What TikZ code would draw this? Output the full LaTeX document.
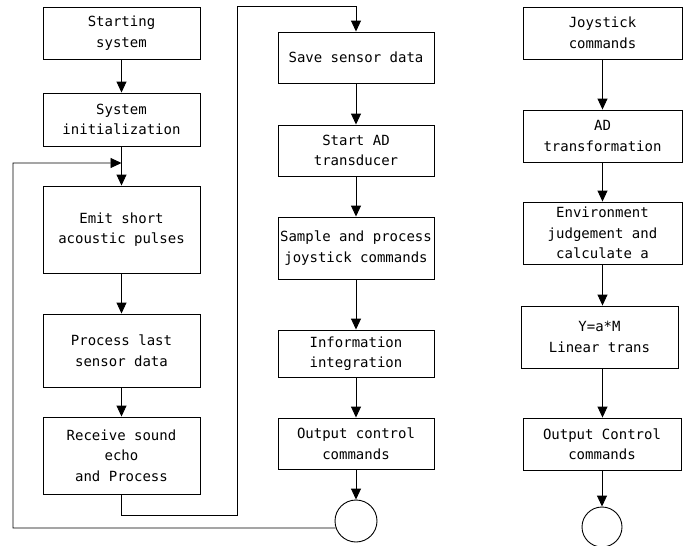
\documentclass[tikz,border=0pt]{standalone}
\usepackage{fontspec}
\newfontfamily\diagfont{DejaVu Sans Mono}
\usetikzlibrary{arrows.meta}
\begin{document}
\begin{tikzpicture}[x=1pt,y=-1pt,
  every node/.style={font=\diagfont\fontsize{14}{20.5}\selectfont},
  procbox/.style={draw,line width=0.9pt,align=center,inner sep=0pt},
  endcircle/.style={draw,line width=0.9pt,circle,inner sep=0pt},
  flow/.style={line width=0.9pt,-{Triangle[length=11pt,width=10pt]}},
  plain/.style={line width=0.9pt}]
\useasboundingbox (0,0) rectangle (697,546);
% left column
\node[procbox,minimum width=157pt,minimum height=52pt] (b1) at (121.5,33) {Starting\\system};
\node[procbox,minimum width=157pt,minimum height=53pt] (b2) at (121.5,119.5) {System\\initialization};
\node[procbox,minimum width=157pt,minimum height=87pt] (b3) at (121.5,229.5) {Emit short\\acoustic pulses};
\node[procbox,minimum width=157pt,minimum height=73pt] (b4) at (121.5,350.5) {Process last\\sensor data};
\node[procbox,minimum width=157pt,minimum height=77pt] (b5) at (121.5,455.5) {Receive sound\\echo\\and Process};
% middle column
\node[procbox,minimum width=156pt,minimum height=51pt] (m1) at (356,57.5) {Save sensor data};
\node[procbox,minimum width=156pt,minimum height=51pt] (m2) at (356,150.5) {Start AD\\transducer};
\node[procbox,minimum width=156pt,minimum height=62pt] (m3) at (356,248) {Sample and process\\joystick commands};
\node[procbox,minimum width=156pt,minimum height=47pt] (m4) at (356,353.5) {Information\\integration};
\node[procbox,minimum width=156pt,minimum height=51pt] (m5) at (356,443.5) {Output control\\commands};
\node[endcircle,minimum size=42pt] (mc) at (356,521) {};
% right column
\node[procbox,minimum width=159pt,minimum height=52pt] (r1) at (602.5,33) {Joystick\\commands};
\node[procbox,minimum width=159pt,minimum height=52pt] (r2) at (602.5,136) {AD\\transformation};
\node[procbox,minimum width=159pt,minimum height=62pt] (r3) at (602.5,233) {Environment\\judgement and\\calculate a};
\node[procbox,minimum width=157pt,minimum height=62pt] (r4) at (599.5,337) {Y=a*M\\Linear trans};
\node[procbox,minimum width=158pt,minimum height=52pt] (r5) at (602,444) {Output Control\\commands};
\node[endcircle,minimum size=40pt] (rc) at (602,527) {};
% coordinates for loops
\coordinate (j1) at (121.5,515);
\coordinate (j2) at (237,515);
\coordinate (j3) at (237,6);
\coordinate (j4) at (356,6);
\coordinate (k1) at (13,528);
\coordinate (k2) at (13,163);
\coordinate (k3) at (121.5,163);
% connectors
\draw[flow] (b1) -- (b2);
\draw[flow] (b2) -- (b3);
\draw[flow] (b3) -- (b4);
\draw[flow] (b4) -- (b5);
\draw[plain] (b5.south) -- (j1) -- (j2) -- (j3) -- (j4);
\draw[flow] (j4) -- (m1.north);
\draw[flow] (m1) -- (m2);
\draw[flow] (m2) -- (m3);
\draw[flow] (m3) -- (m4);
\draw[flow] (m4) -- (m5);
\draw[flow] (m5) -- (mc);
\draw[flow] (mc.199) -- (k1) -- (k2) -- (k3);
\draw[flow] (r1) -- (r2.north -| r1.south);
\draw[flow] (r2) -- (r3);
\draw[flow] (r3.south) -- (r4.north -| r3.south);
\draw[flow] (r4.south -| r3.south) -- (r5.north -| r3.south);
\draw[flow] (r5) -- (rc);
\end{tikzpicture}
\end{document}
